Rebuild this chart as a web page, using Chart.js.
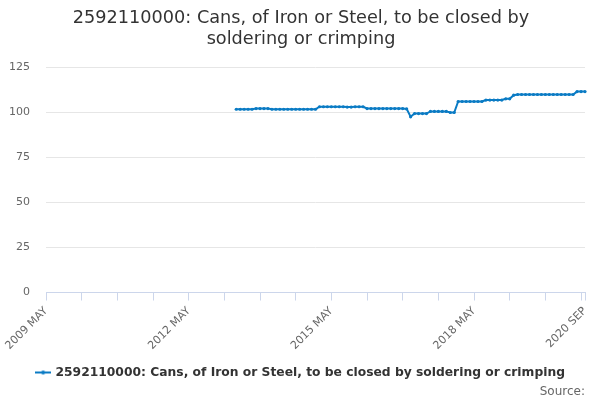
<!DOCTYPE html>
<html>
<head>
<meta charset="utf-8">
<script src="https://cdn.jsdelivr.net/npm/chart.js@4"></script>
<style>
html,body{margin:0;padding:0;background:#fff;}
#wrap{width:600px;height:400px;}
</style>
</head>
<body>
<div id="wrap"><canvas id="c" width="600" height="400"></canvas></div>
<script>
const titleText = ["2592110000: Cans, of Iron or Steel, to be closed by", "soldering or crimping"];
const seriesName = "2592110000: Cans, of Iron or Steel, to be closed by soldering or crimping";
const startYear = 2009, startMonth = 4; // MAY (0-based)
const monthCount = 137; // 2009 MAY .. 2020 SEP
const monthNames = ["JAN","FEB","MAR","APR","MAY","JUN","JUL","AUG","SEP","OCT","NOV","DEC"];
const labeledIndices = [0, 36, 72, 108, 136];
const yTicks = [0, 25, 50, 75, 100, 125];
const leadingEmpty = 48; // months before 2013 MAY with no data
const values = [
  101.8,101.8,101.8,101.8,101.8,
  102.2,102.2,102.2,102.2,
  101.8,101.8,101.8,101.8,101.8,101.8,101.8,101.8,101.8,101.8,101.8,101.8,
  103.2,103.2,103.2,103.2,103.2,103.2,103.2,103.0,103.0,103.2,103.2,103.2,
  102.2,102.2,102.2,102.2,102.2,102.2,102.2,102.2,102.2,102.2,
  102.0,
  97.6,
  99.4,99.4,99.4,99.4,
  100.6,100.6,100.6,100.6,100.6,
  100.0,100.0,
  106.1,106.1,106.1,106.1,106.1,106.1,106.1,
  106.9,106.9,106.9,106.9,106.9,
  107.6,107.6,
  109.6,110.0,110.0,110.0,110.0,110.0,110.0,110.0,110.0,110.0,110.0,110.0,110.0,110.0,110.0,110.0,
  111.6,111.6,111.6
];

const labels = [];
for (let i = 0; i < monthCount; i++) {
  const m = startMonth + i;
  labels.push((startYear + Math.floor(m / 12)) + " " + monthNames[m % 12]);
}
const data = new Array(leadingEmpty).fill(null).concat(values);

const lineColor = '#0a7bc4';
// legend marker: line with a dot
const marker = document.createElement('canvas');
marker.width = 16; marker.height = 8;
const mctx = marker.getContext('2d');
mctx.strokeStyle = lineColor; mctx.lineWidth = 2;
mctx.beginPath(); mctx.moveTo(0, 4); mctx.lineTo(16, 4); mctx.stroke();
mctx.fillStyle = lineColor;
mctx.beginPath(); mctx.arc(8, 4, 2, 0, Math.PI * 2); mctx.fill();

Chart.defaults.font.family = "'DejaVu Sans', sans-serif";

new Chart(document.getElementById('c'), {
  type: 'line',
  data: {
    labels: labels,
    datasets: [{
      label: seriesName,
      data: data,
      borderColor: lineColor,
      backgroundColor: lineColor,
      borderWidth: 2,
      pointRadius: 1.6,
      pointHoverRadius: 3,
      pointBackgroundColor: lineColor,
      pointBorderWidth: 0,
      spanGaps: false,
      tension: 0
    }]
  },
  options: {
    responsive: false,
    animation: false,
    layout: { padding: { left: 10, right: 8, top: 6, bottom: 0 } },
    scales: {
      x: {
        offset: false,
        afterFit: (axis) => { axis.paddingLeft = 0; axis.paddingRight = 15; axis.height += 7; },
        grid: {
          display: true,
          drawOnChartArea: false,
          drawTicks: true,
          tickLength: 8,
          color: (ctx) => (ctx.index % 9 === 0 || ctx.index === monthCount - 1) ? '#ccd6eb' : 'rgba(0,0,0,0)'
        },
        border: { display: true, color: '#ccd6eb', width: 1 },
        ticks: {
          autoSkip: false,
          maxRotation: 45,
          minRotation: 45,
          padding: 4,
          color: '#666666',
          font: { size: 11 },
          callback: function(v, i) { return labeledIndices.includes(i) ? labels[i] : ''; }
        }
      },
      y: {
        min: 0,
        max: 125,
        afterBuildTicks: (axis) => { axis.ticks = yTicks.map(v => ({ value: v })); },
        afterFit: (axis) => { axis.width = 36; },
        grid: { color: '#e6e6e6', drawTicks: false },
        border: { display: false },
        ticks: { color: '#666666', font: { size: 11 }, padding: 16 }
      }
    },
    plugins: {
      title: {
        display: true,
        text: titleText,
        color: '#333333',
        font: { size: 17.7, weight: 'normal' },
        padding: { top: 2, bottom: 17 }
      },
      subtitle: {
        display: true,
        text: 'Source:',
        position: 'bottom',
        align: 'end',
        fullSize: false,
        color: '#666666',
        font: { size: 12, weight: 'normal' },
        padding: { top: -4, bottom: 1 }
      },
      legend: {
        position: 'bottom',
        labels: {
          usePointStyle: true,
          pointStyle: marker,
          color: '#333333',
          font: { size: 12.3, weight: 'bold' },
          padding: 3,
          generateLabels: (chart) => [{
            text: seriesName,
            pointStyle: marker,
            fillStyle: lineColor,
            strokeStyle: lineColor,
            fontColor: '#333333',
            datasetIndex: 0
          }]
        }
      },
      tooltip: { enabled: false }
    }
  }
});
</script>
</body>
</html>
